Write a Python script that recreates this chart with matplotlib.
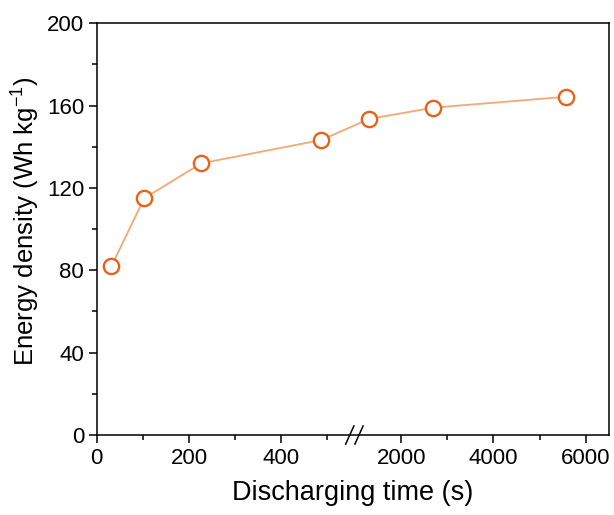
import numpy as np
import matplotlib
matplotlib.use("Agg")
import matplotlib.pyplot as plt
from matplotlib.ticker import FixedLocator

plt.rcParams['font.family'] = ['Liberation Sans', 'DejaVu Sans']
plt.rcParams['mathtext.fontset'] = 'custom'
plt.rcParams['mathtext.rm'] = 'Liberation Sans'
plt.rcParams['mathtext.it'] = 'Liberation Sans:italic'

# data
time_s = [32, 103, 227, 487, 1300, 2690, 5580]
energy = [82, 115, 132, 143.3, 153.5, 159, 164.3]

x_major = [0, 200, 400, 2000, 4000, 6000]
x_minor = [100, 300, 500, 3000, 5000]
y_major = [0, 40, 80, 120, 160, 200]
y_minor = [20, 60, 100, 140, 180]

# broken x axis: 0-560 linear, then 1000-6500 squeezed by 10x
BRK_LO, BRK_HI, RATIO = 560, 1000, 0.1


def fwd(x):
    x = np.asarray(x, dtype=float)
    return np.where(x <= BRK_LO, x,
                    np.where(x >= BRK_HI, BRK_LO + (x - BRK_HI) * RATIO, BRK_LO))


def inv(u):
    u = np.asarray(u, dtype=float)
    return np.where(u <= BRK_LO, u, BRK_HI + (u - BRK_LO) / RATIO)


line_col = '#F6A772'
mark_col = '#E8621A'

fig = plt.figure(figsize=(6.14, 5.15), dpi=100)
ax = fig.add_axes([0.1575, 0.1553, 0.834, 0.7995])
ax.set_xscale('function', functions=(fwd, inv))

ax.plot(time_s, energy, color=line_col, lw=1.3, zorder=2)
ax.plot(time_s, energy, ls='none', marker='o', ms=11, mew=1.7,
        mfc='white', mec=mark_col, zorder=3)

ax.set_xlim(0, 6500)
ax.set_ylim(0, 200)
ax.xaxis.set_major_locator(FixedLocator(x_major))
ax.xaxis.set_minor_locator(FixedLocator(x_minor))
ax.set_xticklabels([str(v) for v in x_major])
ax.set_yticks(y_major)
ax.set_yticks(y_minor, minor=True)

ax.tick_params(which='major', direction='out', length=6, width=1.1,
               labelsize=16, pad=3)
ax.tick_params(which='minor', direction='out', length=3.5, width=1.1)
ax.tick_params(top=False, right=False, which='both')
for sp in ax.spines.values():
    sp.set_linewidth(1.1)

ax.set_xlabel('Discharging time (s)', fontsize=19.5, labelpad=8)
ax.set_ylabel('Energy density (Wh kg$^{-1}$)', fontsize=18.5)
ax.yaxis.set_label_coords(-0.106, 0.52)

# break marks "//" on the bottom axis
x_ax = (354.5 - 96.7) / (609 - 96.7)
for off in (-0.009, 0.009):
    ax.plot([x_ax + off - 0.008, x_ax + off + 0.008], [-0.022, 0.022],
            transform=ax.transAxes, color='black', lw=1.1, clip_on=False,
            zorder=5)

fig.savefig('out.png', dpi=100)
